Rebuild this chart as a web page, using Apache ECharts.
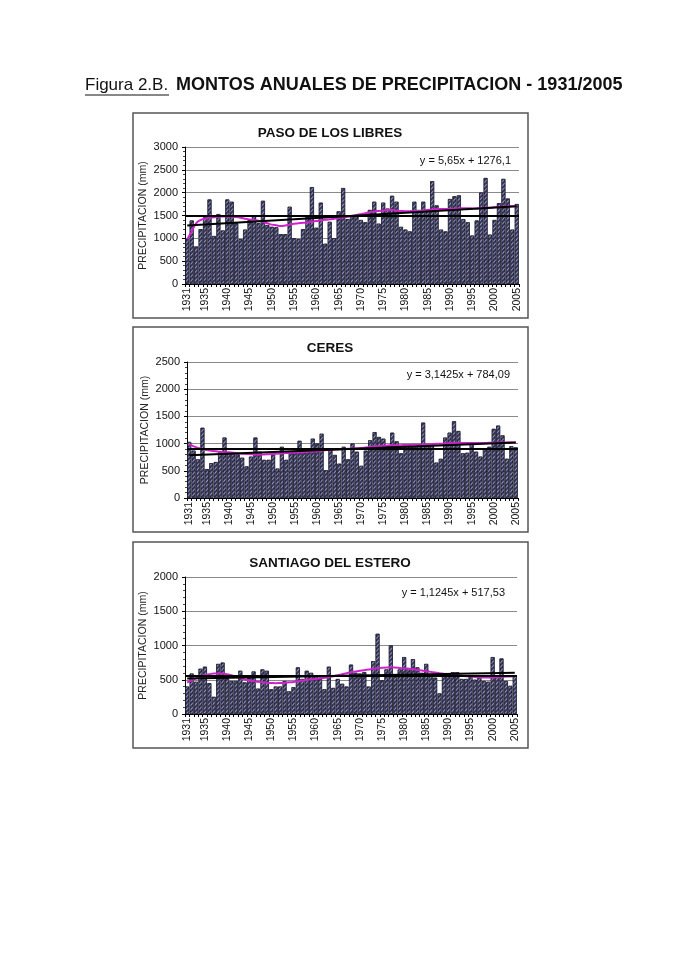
<!DOCTYPE html>
<html><head><meta charset="utf-8">
<script src="https://cdn.jsdelivr.net/npm/echarts@6/dist/echarts.min.js"></script>
<style>html,body{margin:0;padding:0;background:#fff}#c{width:700px;height:980px}</style>
</head><body><div id="c"></div>
<script>
const years = ['1931','1932','1933','1934','1935','1936','1937','1938','1939','1940',
'1941','1942','1943','1944','1945','1946','1947','1948','1949','1950',
'1951','1952','1953','1954','1955','1956','1957','1958','1959','1960',
'1961','1962','1963','1964','1965','1966','1967','1968','1969','1970',
'1971','1972','1973','1974','1975','1976','1977','1978','1979','1980',
'1981','1982','1983','1984','1985','1986','1987','1988','1989','1990',
'1991','1992','1993','1994','1995','1996','1997','1998','1999','2000',
'2001','2002','2003','2004','2005'];
const labelYears = ['1931','1935','1940','1945','1950','1955','1960','1965','1970','1975','1980','1985','1990','1995','2000','2005'];

// PASO DE LOS LIBRES
const pasoValues = [980,1390,820,1200,1460,1850,1050,1530,1170,1850,
1800,1330,980,1190,1400,1480,1330,1820,1290,1250,
1240,1090,1090,1690,1000,980,1200,1480,2120,1230,
1780,880,1360,1000,1590,2100,1420,1470,1480,1400,
1350,1620,1800,1320,1780,1650,1930,1800,1250,1190,
1150,1800,1620,1800,1630,2250,1720,1190,1150,1860,
1920,1940,1420,1350,1060,1390,2000,2320,1080,1400,
1770,2300,1870,1190,1750];
const pasoAvg = [980,1150,1330,1400,1430,1450,1460,1470,1480,1480,
1475,1465,1450,1430,1415,1400,1385,1360,1330,1300,
1285,1270,1280,1300,1320,1330,1340,1350,1365,1380,
1395,1405,1415,1430,1445,1460,1470,1490,1510,1530,
1550,1570,1590,1600,1610,1620,1620,1610,1600,1595,
1595,1600,1600,1610,1620,1630,1640,1640,1640,1650,
1650,1655,1660,1660,1655,1655,1660,1670,1670,1680,
1690,1695,1700,1700,1705];
const pasoMean = 1490;
const pasoTrend = [1282, 1700];

// CERES
const ceresValues = [1030,870,710,1290,530,640,660,860,1110,820,
820,800,740,580,760,1110,850,700,700,850,
540,940,700,860,850,1050,880,860,1090,1000,
1180,510,900,790,630,940,710,1000,850,590,
870,1060,1210,1120,1090,960,1200,1040,820,930,
940,940,970,1385,950,950,650,720,1110,1200,
1410,1230,820,830,1000,850,760,910,940,1270,
1330,1150,720,950,930];
const ceresAvg = [990,950,920,900,880,870,860,850,845,840,
830,820,815,810,805,800,800,800,805,810,
815,820,825,830,835,840,845,850,855,860,
870,880,885,890,895,900,905,910,915,920,
930,940,950,955,960,965,970,970,970,975,
975,980,980,985,990,990,995,995,1000,1005,
1010,1010,1010,1010,1010,1010,1010,1010,1015,1015,
1020,1020,1020,1020,1020];
const ceresMean = 905;
const ceresTrend = [787, 1020];

// SANTIAGO DEL ESTERO
const santiagoValues = [400,590,470,660,690,450,250,730,750,520,
480,480,630,460,530,620,370,650,630,360,
400,400,480,330,390,680,510,630,600,560,
530,360,690,380,510,440,400,720,600,590,
610,400,770,1170,490,650,1000,540,650,830,
670,800,680,600,730,550,530,300,570,590,
610,610,510,510,540,500,530,480,470,830,
550,810,480,410,560];
const santiagoAvg = [460,490,520,550,570,580,590,590,590,580,
565,545,525,505,490,480,470,462,456,452,
450,452,456,462,468,478,488,498,505,512,
520,530,540,552,565,580,595,610,620,630,
640,650,660,668,675,680,682,678,672,666,
660,652,644,635,625,615,605,595,586,577,
570,564,558,552,546,541,537,534,532,533,
537,542,546,549,551];
const santiagoMean = 560;
const santiagoTrend = [519, 602];

const panels = [
  {name:'PASO DE LOS LIBRES', values:pasoValues, avg:pasoAvg, mean:pasoMean, trend:pasoTrend, eq:'y = 5,65x + 1276,1',
   max:3000, grid:{left:185, width:334, top:147, height:137}, box:[133,113,395,205], titleY:133, eqX:513, eqY:161},
  {name:'CERES', values:ceresValues, avg:ceresAvg, mean:ceresMean, trend:ceresTrend, eq:'y = 3,1425x + 784,09',
   max:2500, grid:{left:187, width:331, top:362, height:136}, box:[133,327,395,205], titleY:348, eqX:512, eqY:375},
  {name:'SANTIAGO DEL ESTERO', values:santiagoValues, avg:santiagoAvg, mean:santiagoMean, trend:santiagoTrend, eq:'y = 1,1245x + 517,53',
   max:2000, grid:{left:185, width:332, top:577, height:137}, box:[133,542,395,206], titleY:563, eqX:507, eqY:593}
];

const chart = echarts.init(document.getElementById('c'), null, {renderer:'canvas', width:700, height:980});

const grids = [], xAxes = [], yAxes = [], series = [], graphics = [];
panels.forEach((p, i) => {
  grids.push(Object.assign({}, p.grid, {show:false}));
  xAxes.push({
    type:'category', gridIndex:i, data:years, boundaryGap:true,
    axisLine:{lineStyle:{color:'#000', width:1}},
    axisTick:{show:true, interval:0, length:3, lineStyle:{color:'#000'}},
    axisLabel:{
      rotate:90, fontSize:10.5, color:'#111', margin:4, fontFamily:'Liberation Sans, Arial',
      interval:(idx, val) => labelYears.indexOf(val) >= 0
    }
  });
  yAxes.push({
    type:'value', gridIndex:i, min:0, max:p.max, interval:500,
    name:'PRECIPITACION (mm)', nameLocation:'middle', nameRotate:90, nameGap:36,
    nameTextStyle:{fontSize:10.5, color:'#222', fontFamily:'Liberation Sans, Arial'},
    axisLine:{show:true, lineStyle:{color:'#000', width:1}},
    axisTick:{show:true, length:3, lineStyle:{color:'#000'}},
    minorTick:{show:true, splitNumber:5, length:2, lineStyle:{color:'#444'}},
    axisLabel:{fontSize:11, color:'#111', margin:7, fontFamily:'Liberation Sans, Arial', formatter:(v) => String(v)},
    splitLine:{show:true, lineStyle:{color:'#8a8a8a', width:1}}
  });
  series.push({
    type:'bar', xAxisIndex:i, yAxisIndex:i, data:p.values, barCategoryGap:'12%',
    itemStyle:{
      color:'#34365f', borderColor:'#15152a', borderWidth:0.6,
      decal:{symbol:'rect', symbolSize:1, dashArrayX:[[1,0]], dashArrayY:[1,1.6], rotation:-Math.PI/4, color:'rgba(215,215,230,0.6)'}
    },
    z:2
  });
  series.push({
    type:'line', xAxisIndex:i, yAxisIndex:i, data:p.avg, smooth:true, showSymbol:false, symbol:'none',
    lineStyle:{color:'#d022cc', width:2}, z:3
  });
  series.push({
    type:'line', xAxisIndex:i, yAxisIndex:i, data:[], z:4,
    markLine:{
      silent:true, symbol:'none', label:{show:false},
      lineStyle:{color:'#000', width:2, type:'solid'},
      data:[
        {yAxis:p.mean},
        [{coord:[years[0], p.trend[0]]}, {coord:[years[years.length-1], p.trend[1]]}]
      ]
    }
  });
  graphics.push({type:'rect', shape:{x:p.box[0], y:p.box[1], width:p.box[2], height:p.box[3]},
    style:{fill:null, stroke:'#555', lineWidth:1.5}, z:0});
  graphics.push({type:'text', x:330, y:p.titleY, style:{text:p.name, fontSize:13.5, fontWeight:'bold',
    fontFamily:'Liberation Sans, Arial', fill:'#111', align:'center', verticalAlign:'middle'}, z:10});
  graphics.push({type:'text', x:p.eqX, y:p.eqY, style:{text:p.eq, fontSize:11, fontFamily:'Liberation Sans, Arial',
    fill:'#111', align:'right', verticalAlign:'middle', backgroundColor:'#fff', padding:[1,2]}, z:10});
});

// main title
graphics.push({type:'text', x:85, y:85, style:{text:'Figura 2.B.', fontSize:17, fontFamily:'Liberation Sans, Arial',
  fontWeight:'normal', fill:'#111', align:'left', verticalAlign:'middle'}, z:10});
graphics.push({type:'line', shape:{x1:85, y1:95, x2:169, y2:95}, style:{stroke:'#111', lineWidth:1}, z:10});
graphics.push({type:'text', x:176, y:85, style:{text:'MONTOS ANUALES DE PRECIPITACION - 1931/2005', fontSize:18,
  fontFamily:'Liberation Sans, Arial', fontWeight:'bold', fill:'#111', align:'left', verticalAlign:'middle'}, z:10});

chart.setOption({
  animation:false,
  backgroundColor:'#fff',
  grid:grids, xAxis:xAxes, yAxis:yAxes, series:series,
  graphic:graphics
});
</script>
</body></html>
